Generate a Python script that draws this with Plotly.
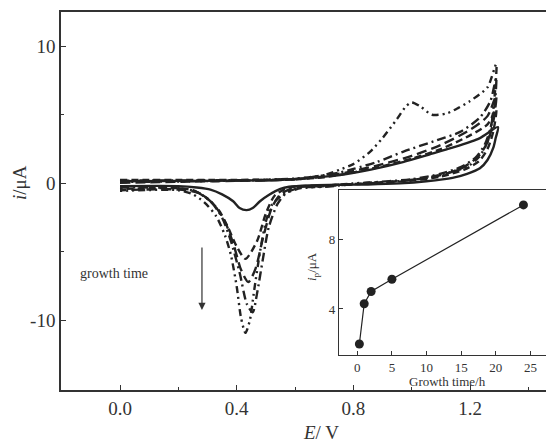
import plotly.graph_objects as go

# ---- Main CV data (E / V, i / uA) ----
# forward (anodic) branch, then reverse (cathodic) branch
c1_E = [0.0, 0.4, 0.55, 0.65, 0.754, 0.86, 0.97, 1.06, 1.14, 1.234, 1.296,
        1.288, 1.28, 1.26, 1.234, 1.19, 1.14, 1.05, 0.96, 0.85, 0.754, 0.65,
        0.58, 0.55, 0.51, 0.48, 0.455, 0.434, 0.41, 0.388, 0.35, 0.31, 0.263, 0.2, 0.0]
c1_i = [0.15, 0.2, 0.25, 0.4, 0.6, 1.0, 1.55, 2.1, 2.6, 3.3, 4.1,
        3.3, 2.6, 1.7, 1.1, 0.7, 0.4, 0.15, 0.0, -0.08, -0.1, -0.15,
        -0.25, -0.4, -0.85, -1.3, -1.8, -1.95, -1.8, -1.3, -0.8, -0.45, -0.3, -0.2, -0.2]

c2_E = [0.0, 0.6, 0.7, 0.8, 0.9, 1.0, 1.1, 1.2, 1.26, 1.29,
        1.28, 1.26, 1.23, 1.18, 1.1, 1.0, 0.85, 0.7,
        0.58, 0.53, 0.5, 0.47, 0.43, 0.40, 0.37, 0.34, 0.30, 0.25, 0.2, 0.0]
c2_i = [0.25, 0.3, 0.45, 0.8, 1.25, 1.8, 2.5, 3.5, 4.3, 5.4,
        3.8, 2.5, 1.6, 1.0, 0.5, 0.2, 0.0, -0.15,
        -0.3, -0.9, -2.2, -4.2, -5.5, -4.6, -3.2, -2.0, -1.1, -0.5, -0.35, -0.4]

c3_E = [0.0, 0.6, 0.7, 0.8, 0.9, 1.0, 1.1, 1.2, 1.26, 1.29,
        1.28, 1.26, 1.23, 1.18, 1.1, 1.0, 0.85, 0.7,
        0.6, 0.55, 0.52, 0.49, 0.465, 0.44, 0.415, 0.39, 0.36, 0.32, 0.27, 0.2, 0.0]
c3_i = [0.05, 0.3, 0.5, 0.9, 1.4, 2.0, 2.8, 3.9, 4.9, 6.4,
        4.5, 3.0, 2.0, 1.2, 0.6, 0.25, 0.0, -0.2,
        -0.3, -0.8, -1.8, -4.0, -6.2, -7.2, -6.3, -4.5, -2.8, -1.5, -0.7, -0.45, -0.5]

c4_E = [0.0, 0.5, 0.6, 0.7, 0.754, 0.8, 0.88, 0.97, 1.087, 1.166, 1.234, 1.27, 1.29,
        1.285, 1.27, 1.25, 1.22, 1.17, 1.1, 1.0, 0.85, 0.7,
        0.62, 0.57, 0.54, 0.51, 0.49, 0.47, 0.455, 0.435, 0.41, 0.38, 0.35, 0.31, 0.26, 0.2, 0.0]
c4_i = [0.2, 0.25, 0.3, 0.6, 0.8, 1.05, 1.55, 2.3, 3.15, 3.75, 4.8, 6.0, 7.7,
        5.8, 4.0, 2.8, 1.9, 1.2, 0.7, 0.3, 0.05, -0.25,
        -0.3, -0.7, -1.5, -3.2, -5.5, -8.0, -9.4, -8.8, -6.5, -4.2, -2.5, -1.3, -0.6, -0.35, -0.3]

c5_E = [0.0, 0.4, 0.6, 0.7, 0.754, 0.8, 0.857, 0.9, 0.95, 0.98, 1.0, 1.03, 1.07, 1.12,
        1.16, 1.2, 1.26, 1.29,
        1.285, 1.275, 1.26, 1.23, 1.19, 1.13, 1.05, 0.95, 0.8, 0.65,
        0.62, 0.56, 0.52, 0.50, 0.48, 0.46, 0.445, 0.43, 0.415, 0.40, 0.38, 0.36, 0.33,
        0.29, 0.25, 0.2, 0.0]
c5_i = [0.1, 0.2, 0.35, 0.6, 1.0, 1.4, 2.3, 3.3, 4.7, 5.6, 5.9, 5.6, 5.0, 5.1,
        5.5, 6.0, 7.0, 8.7,
        6.5, 4.5, 3.0, 1.9, 1.2, 0.8, 0.4, 0.15, 0.0, -0.3,
        -0.35, -0.8, -1.6, -2.8, -5.0, -7.8, -10.0, -10.9, -9.8, -7.5, -5.2, -3.8, -2.4,
        -1.4, -0.8, -0.5, -0.55]

# ---- Inset data ----
growth_time_h = [0.3, 1, 2, 5, 24]
ip_uA = [2.0, 4.3, 5.0, 5.7, 9.95]

x_ticks = [0.0, 0.4, 0.8, 1.2]
x_tick_labels = ["0.0", "0.4", "0.8", "1.2"]
y_ticks = [-10, 0, 10]
y_tick_labels = ["-10", "0", "10"]
inset_x_ticks = [0, 5, 10, 15, 20, 25]
inset_y_ticks = [4, 8]

FONT = "Liberation Serif"
INK = "#222222"
AX = "#333333"

fig = go.Figure()

styles = [
    (c1_E, c1_i, "solid", 2.4),
    (c2_E, c2_i, "7px,4px", 2.4),
    (c3_E, c3_i, "10px,5px", 2.4),
    (c4_E, c4_i, "9px,4px,2px,4px", 2.4),
    (c5_E, c5_i, "7px,4px,2px,4px,2px,4px", 2.4),
]
for E, I, dash, w in styles:
    fig.add_trace(go.Scatter(
        x=E, y=I, mode="lines",
        line=dict(color=INK, width=w, dash=dash, shape="spline", smoothing=0.7),
        showlegend=False, xaxis="x", yaxis="y"))

fig.add_trace(go.Scatter(
    x=growth_time_h, y=ip_uA, mode="lines+markers",
    line=dict(color=INK, width=1.2),
    marker=dict(color=INK, size=9),
    showlegend=False, xaxis="x2", yaxis="y2"))


def axis(**kw):
    base = dict(showline=True, linecolor=AX, linewidth=1.5, ticks="inside",
                tickcolor=AX, showgrid=False, zeroline=False)
    base.update(kw)
    return base


# the page body has an 8px margin, so the figure is sized to fit the window
fig.update_layout(
    width=546, height=434,
    margin=dict(l=53, r=0, t=4, b=52),
    paper_bgcolor="white", plot_bgcolor="white",
    font=dict(family=FONT, color=AX),
    xaxis=axis(
        mirror=True, range=[-0.2023, 1.488],
        tickvals=x_ticks, ticktext=x_tick_labels, ticklen=5, tickwidth=1.3,
        minor=dict(tickvals=[0.2, 0.6, 1.0, 1.4], ticklen=3, ticks="inside", tickcolor=AX),
        tickfont=dict(size=19, family=FONT, color=AX),
        domain=[0, 1],
    ),
    yaxis=axis(
        mirror=False, range=[-15.06, 12.49],
        tickvals=y_ticks, ticktext=y_tick_labels, ticklen=5, tickwidth=1.3,
        minor=dict(tickvals=[-5, 5], ticklen=3, ticks="inside", tickcolor=AX),
        tickfont=dict(size=19, family=FONT, color=AX),
        domain=[0, 1],
    ),
    xaxis2=axis(
        mirror=True, range=[-2.64, 27.4], anchor="y2", linewidth=1.1,
        domain=[0.5639, 0.9858], tickvals=inset_x_ticks, ticklen=4,
        tickfont=dict(size=13, family=FONT, color=AX),
    ),
    yaxis2=axis(
        mirror=True, range=[1.37, 10.8], anchor="x2", linewidth=1.1,
        domain=[0.0926, 0.529], tickvals=inset_y_ticks, ticklen=4,
        tickfont=dict(size=13, family=FONT, color=AX),
    ),
)

annotations = [
    dict(text="<i>E</i>/ V", xref="paper", yref="paper", x=(321 - 61) / 493, y=(390 - 432) / 378,
         showarrow=False, font=dict(size=19, family=FONT, color=AX),
         xanchor="center", yanchor="middle"),
    dict(text="<i>i</i>/μA", xref="paper", yref="paper", x=(20 - 61) / 493, y=(390 - 183) / 378,
         showarrow=False, textangle=-90, font=dict(size=19, family=FONT, color=AX),
         xanchor="center", yanchor="middle"),
    dict(text="growth time", xref="x", yref="y", x=-0.022, y=-6.6, showarrow=False,
         font=dict(size=14, family=FONT, color=AX), xanchor="center", yanchor="middle"),
    dict(text="", xref="x", yref="y", x=0.281, y=-9.23, axref="x", ayref="y",
         ax=0.281, ay=-4.57, showarrow=True, arrowhead=2, arrowsize=1.2,
         arrowwidth=1.2, arrowcolor=AX),
    dict(text="<i>i</i><sub>p</sub>/μA", xref="paper", yref="paper", x=(312 - 61) / 493,
         y=(390 - 267) / 378, showarrow=False, textangle=-90,
         font=dict(size=13, family=FONT, color=AX), xanchor="center", yanchor="middle"),
    dict(text="Growth time/h", xref="paper", yref="paper", x=(447 - 61) / 493,
         y=(390 - 381) / 378, showarrow=False,
         font=dict(size=13, family=FONT, color=AX), xanchor="center", yanchor="middle"),
]
fig.update_layout(annotations=annotations)

fig.write_html("out.html")
